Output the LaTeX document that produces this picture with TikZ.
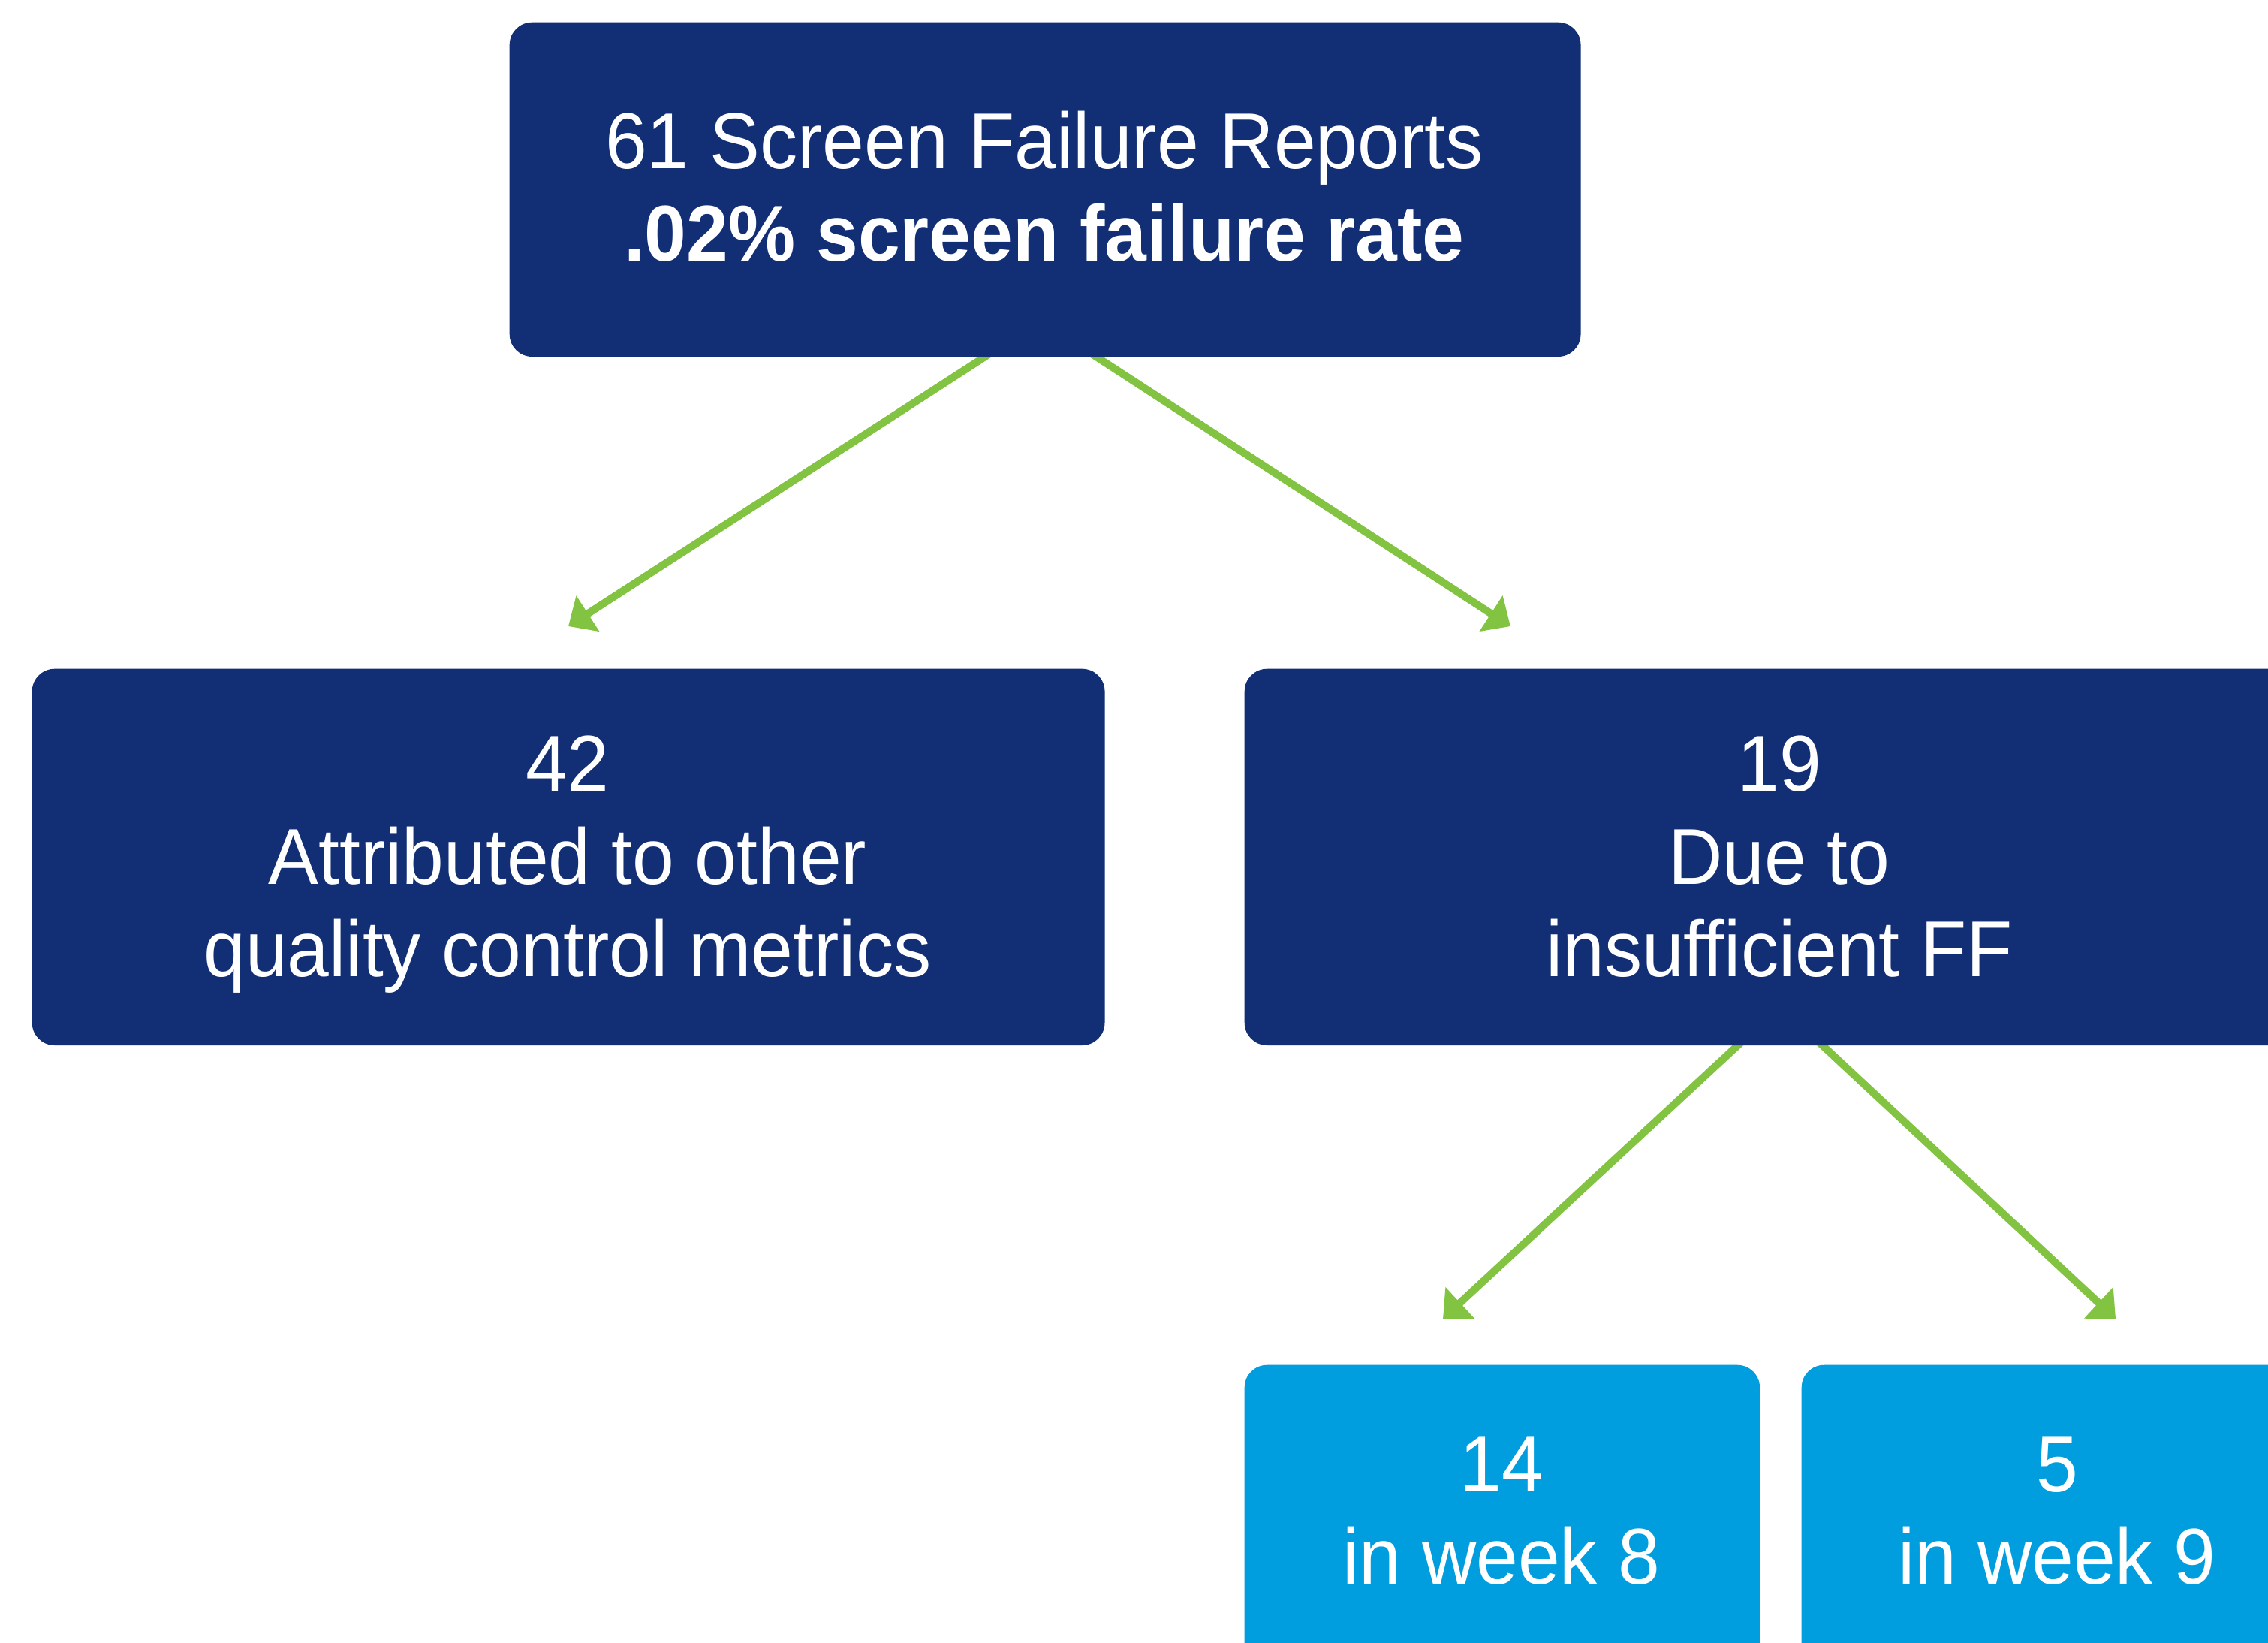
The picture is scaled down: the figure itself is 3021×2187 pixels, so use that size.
\documentclass[tikz,border=0pt]{standalone}
\usepackage{fontspec}
\setmainfont{Liberation Sans}[FakeStretch=0.95]
\usetikzlibrary{arrows.meta,calc,backgrounds}
\definecolor{navy}{HTML}{122E74}
\definecolor{sky}{HTML}{009EDE}
\definecolor{leaf}{HTML}{82C341}
\tikzset{
  panel/.style={rounded corners=0.3cm, inner sep=0pt, anchor=north west, draw=none},
  darkpanel/.style={panel, fill=navy},
  lightpanel/.style={panel, fill=sky},
  label/.style={text=white, inner sep=0pt, anchor=base, font=\fontsize{30pt}{36pt}\selectfont},
  boldlabel/.style={label, font=\fontsize{30pt}{36pt}\selectfont\bfseries},
  flow/.style={draw=leaf, line width=0.1cm, shorten <=-0.15cm,
    -{Triangle[length=0.31cm, width=0.55cm]}}
}
\begin{document}
\begin{tikzpicture}[x=0.01cm, y=-0.01cm]
  \useasboundingbox (0,0) rectangle (3021,2187);
  \begin{scope}[on background layer]
    \fill[white] (0,0) rectangle (3021,2187);
  \end{scope}
  \clip (0,0) rectangle (3021,2187);

  % boxes
  \node[darkpanel, minimum width=14.26cm, minimum height=4.45cm] (top) at (678,29) {};
  \node[darkpanel, minimum width=14.28cm, minimum height=5.01cm] (other) at (42,890) {};
  \node[darkpanel, minimum width=14.26cm, minimum height=5.01cm] (ff) at (1657,890) {};
  \node[lightpanel, minimum width=6.86cm, minimum height=4.2cm] (wk8) at (1657,1817) {};
  \node[lightpanel, minimum width=6.84cm, minimum height=4.2cm] (wk9) at (2399,1817) {};

  % labels
  \node[label] (topa) at (1391,224) {61 Screen Failure Reports};
  \node[boldlabel] (topb) at (1391,347) {.02\% screen failure rate};

  \node[label] (oa) at (756,1053) {42};
  \node[label] (ob) at (756,1177) {Attributed to other};
  \node[label] (oc) at (756,1300) {quality control metrics};

  \node[label] (fa) at (2370,1053) {19};
  \node[label] (fb) at (2370,1177) {Due to};
  \node[label] (fc) at (2370,1300) {insufficient FF};

  \node[label] (wa) at (2000,1986) {14};
  \node[label] (wb) at (2000,2109) {in week 8};

  \node[label] (va) at (2740,1986) {5};
  \node[label] (vb) at (2740,2109) {in week 9};

  % arrow tips
  \coordinate (tipother) at (757,834);
  \coordinate (tipff) at (2012,834);
  \coordinate (tipwk8) at (1922,1756);
  \coordinate (tipwk9) at (2818,1756);

  % connectors, tucked under the boxes they leave
  \begin{scope}[on background layer]
    \draw[flow] ($(top.south)+(-81,0)$) -- (tipother);
    \draw[flow] ($(top.south)+(69,0)$) -- (tipff);
    \draw[flow] ($(ff.south)+(-57,0)$) -- (tipwk8);
    \draw[flow] ($(ff.south)+(57,0)$) -- (tipwk9);
  \end{scope}
\end{tikzpicture}
\end{document}
